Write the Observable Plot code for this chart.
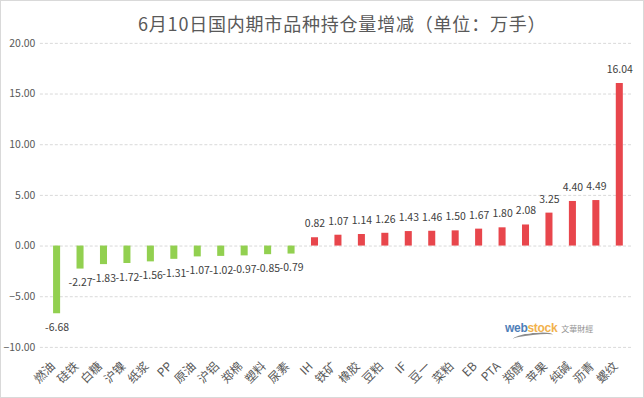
<!DOCTYPE html>
<html>
<head>
<meta charset="utf-8">
<script src="https://cdn.jsdelivr.net/npm/d3@7"></script>
<script src="https://cdn.jsdelivr.net/npm/@observablehq/plot@0.6"></script>
<style>
  html, body { margin: 0; padding: 0; background: #fff; }
  #wrap { position: relative; width: 644px; height: 398px; box-sizing: border-box; border: 1px solid #d9d9d9; overflow: hidden; }
  #wrap svg { position: absolute; left: -1px; top: -1px; }
  #title { position: absolute; left: 137px; top: 9px; white-space: nowrap; letter-spacing: 0.8px;
    font-family: "Noto Sans CJK SC", sans-serif; font-size: 18px; line-height: 26px; color: #595959; }
  #logo { position: absolute; left: 504px; top: 317px; font-family: "Liberation Sans", sans-serif; opacity: 0.8; white-space: nowrap; }
  #logo .w { color: #1f5ea8; font-weight: bold; font-size: 12px; letter-spacing: -0.3px; }
  #logo .s { color: #f0a020; font-weight: bold; font-size: 12px; letter-spacing: -0.3px; }
  #logo .c { color: #777; font-size: 8px; font-family: "Noto Sans CJK TC", sans-serif; margin-left: 4px; }
  #logo .sw { position: absolute; left: 8px; top: 15px; width: 40px; height: 6px; border-top: 2px solid #333; border-radius: 50% 50% 0 0; transform: rotate(-6deg); opacity: 0.7; }
</style>
</head>
<body>
<div id="wrap">
  <div id="chart"></div>
  <div id="title">6月10日国内期市品种持仓量增减（单位：万手）</div>
  <div id="logo"><span class="w">web</span><span class="s">stock</span><span class="c">文華財經</span><div class="sw"></div></div>
</div>
<script>
const names = ["燃油","硅铁","白糖","沪镍","纸浆","PP","原油","沪铝","郑棉","塑料","尿素","IH","铁矿","橡胶","豆粕","IF","豆一","菜粕","EB","PTA","郑醇","苹果","纯碱","沥青","螺纹"];
const values = [-6.68,-2.27,-1.83,-1.72,-1.56,-1.31,-1.07,-1.02,-0.97,-0.85,-0.79,0.82,1.07,1.14,1.26,1.43,1.46,1.50,1.67,1.80,2.08,3.25,4.40,4.49,16.04];
const yTicks = [-10,-5,0,5,10,15,20];

const data = names.map((n, i) => ({name: n, value: values[i]}));
const neg = data.filter(d => d.value < 0);
const pos = data.filter(d => d.value >= 0);
const font = "'Noto Sans CJK SC', sans-serif";

const chart = Plot.plot({
  width: 644,
  height: 398,
  marginTop: 43,
  marginBottom: 50,
  marginLeft: 40,
  marginRight: 11,
  style: {fontFamily: font, fontSize: "10.5px", color: "#595959", background: "transparent"},
  x: {domain: names, range: [45, 633], paddingInner: 0.7, paddingOuter: 0.35, round: false, axis: null},
  y: {domain: [-10, 20], ticks: yTicks, tickSize: 0, tickPadding: 5, tickFormat: d3.format(".2f"), label: null},
  marks: [
    Plot.ruleY(yTicks, {stroke: "#d9d9d9", strokeOpacity: 1, strokeDasharray: "3,2"}),
    Plot.barY(neg, {x: "name", y: "value", fill: "#92d050"}),
    Plot.barY(pos, {x: "name", y: "value", fill: "#e8464c"}),
    Plot.text(neg, {x: "name", y: "value", text: d => d.value.toFixed(2), dy: 14, fill: "#404040", fontSize: 10.5}),
    Plot.text(pos, {x: "name", y: "value", text: d => d.value.toFixed(2), dy: -14, fill: "#404040", fontSize: 10.5}),
    Plot.text(names, {x: d => d, frameAnchor: "bottom", rotate: -45, textAnchor: "end", lineAnchor: "middle", dx: -4, dy: 17, fill: "#595959", fontSize: 12})
  ]
});
document.getElementById("chart").appendChild(chart);
</script>
</body>
</html>
